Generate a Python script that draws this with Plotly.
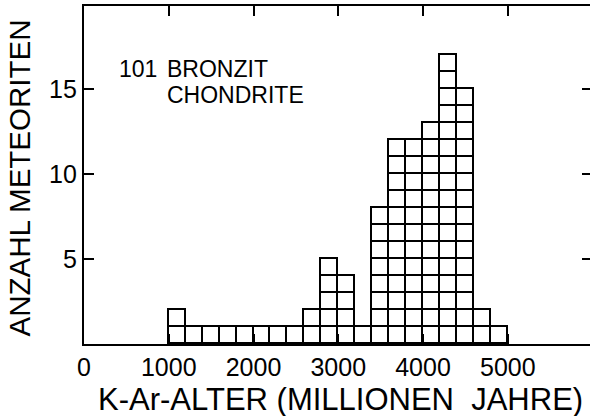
import plotly.graph_objects as go

# Data: K-Ar ages of 101 bronzite chondrites, bins of 200 Myr
bin_starts = [1000, 1200, 1400, 1600, 1800, 2000, 2200, 2400, 2600, 2800,
              3000, 3200, 3400, 3600, 3800, 4000, 4200, 4400, 4600, 4800]
counts = [2, 1, 1, 1, 1, 1, 1, 1, 2, 5,
          4, 1, 8, 12, 12, 13, 17, 15, 2, 1]
bin_width = 200
x_ticks = [0, 1000, 2000, 3000, 4000, 5000]
y_ticks = [5, 10, 15]
label_count = "101"
label_lines = ["BRONZIT", "CHONDRITE"]
x_title = "K-Ar-ALTER (MILLIONEN&nbsp; JAHRE)"
y_title = "ANZAHL METEORITEN"

FONT = "Liberation Sans, Arial, sans-serif"

centers = [s + bin_width / 2 for s in bin_starts]
fig = go.Figure()
for k in range(1, max(counts) + 1):
    fig.add_trace(go.Bar(
        x=centers,
        y=[1 if c >= k else None for c in counts],
        width=bin_width,
        marker=dict(color="white", line=dict(color="black", width=1.8)),
        showlegend=False, hoverinfo="skip"))

# helper trace for the right-side tick axis
fig.add_trace(go.Scatter(x=[None], y=[None], yaxis="y2", showlegend=False))

fig.update_layout(
    barmode="stack",
    bargap=0,
    width=590, height=416,
    margin=dict(l=84, r=0, t=6, b=72),
    paper_bgcolor="white", plot_bgcolor="white",
    font=dict(family=FONT, color="black"),
    xaxis=dict(range=[0, 5970], tickvals=x_ticks, ticks="inside", ticklen=10,
               tickwidth=1.5, tickcolor="black", showline=True, linewidth=2.2,
               linecolor="black", mirror="ticks", showgrid=False, zeroline=False,
               tickfont=dict(family=FONT, size=25)),
    yaxis=dict(range=[0, 19.9], tickvals=y_ticks, ticks="inside", ticklen=10,
               tickwidth=1.5, tickcolor="black", showline=True, linewidth=2.2,
               linecolor="black", showgrid=False, zeroline=False,
               tickfont=dict(family=FONT, size=25)),
    yaxis2=dict(range=[0, 19.9], tickvals=y_ticks, ticks="inside", ticklen=8,
                tickwidth=1.5, tickcolor="black", showline=False, overlaying="y",
                side="right", showticklabels=False, showgrid=False, zeroline=False),
)

fig.add_annotation(text=label_count, x=390, y=16.2, xref="x", yref="y",
                   xanchor="left", yanchor="middle", showarrow=False,
                   font=dict(family=FONT, size=23))
fig.add_annotation(text=label_lines[0], x=955, y=16.2, xref="x", yref="y",
                   xanchor="left", yanchor="middle", showarrow=False,
                   font=dict(family=FONT, size=23))
fig.add_annotation(text=label_lines[1], x=955, y=14.68, xref="x", yref="y",
                   xanchor="left", yanchor="middle", showarrow=False,
                   font=dict(family=FONT, size=23))

fig.add_annotation(text=x_title, x=0.506, y=-0.163, xref="paper", yref="paper",
                   xanchor="center", yanchor="middle", showarrow=False,
                   font=dict(family=FONT, size=31))
fig.add_annotation(text=y_title, x=-0.1267, y=0.4926, xref="paper", yref="paper",
                   xanchor="center", yanchor="middle", showarrow=False, textangle=-90,
                   font=dict(family=FONT, size=29.5))

fig.write_html("out.html", config={"displayModeBar": False},
               post_script="document.body.style.margin='0';document.body.style.padding='0';")
